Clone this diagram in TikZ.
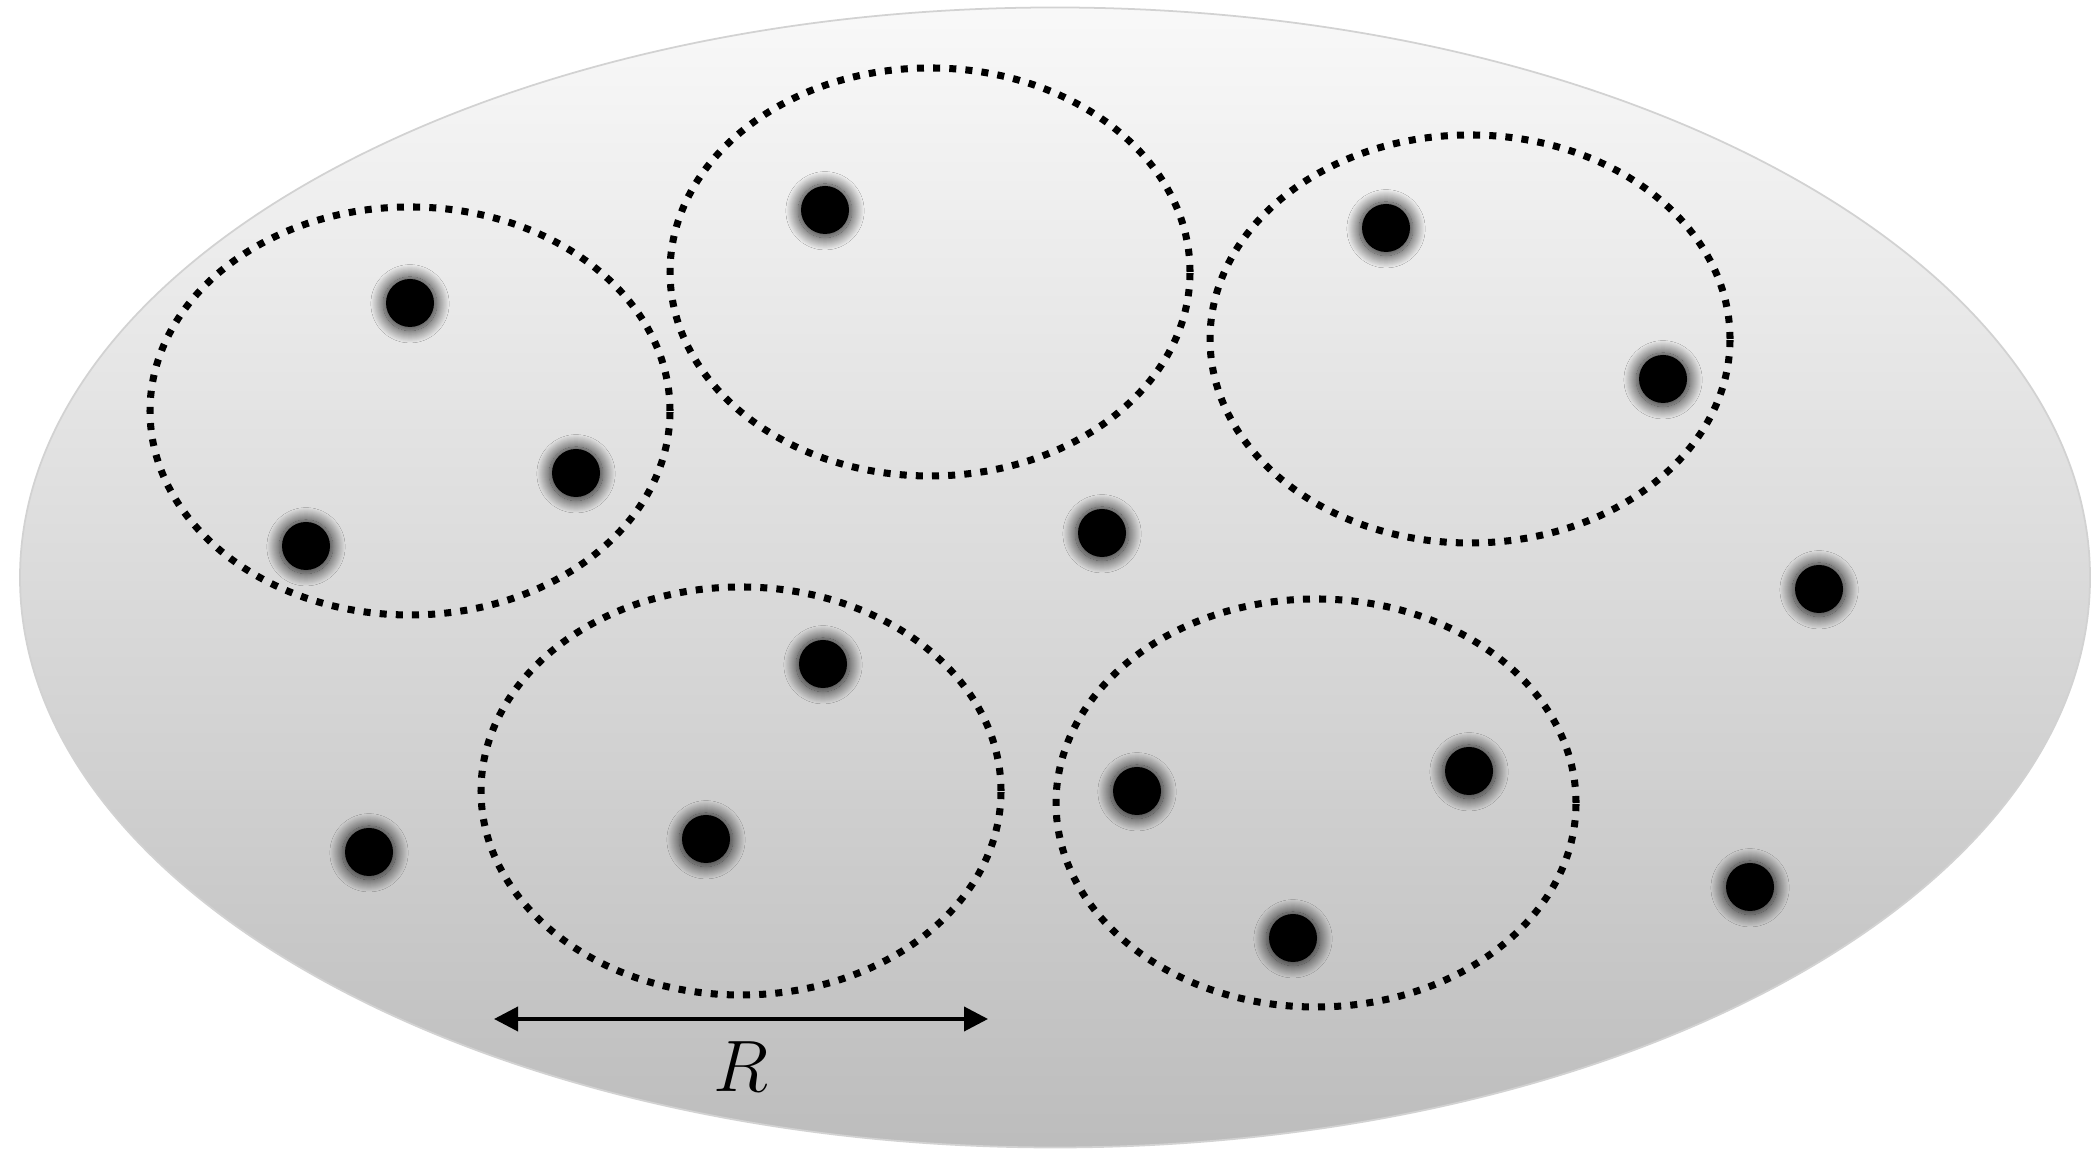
\documentclass[tikz,border=0pt]{standalone}
\usepackage{tikz}
\usetikzlibrary{positioning,arrows.meta,shapes.geometric,shadows.blur}

\begin{document}
\begin{tikzpicture}[
    pt/.style={circle, fill=black, inner sep=0pt, minimum size=0.48cm,
      blur shadow={shadow xshift=0pt, shadow yshift=-0.2pt, shadow blur radius=0.11cm,
        shadow opacity=85, shadow scale=1.12, shadow blur steps=25}},
    region/.style={ellipse, draw=black, line width=2pt, dash pattern=on 2pt off 2.6pt,
      inner sep=0pt, minimum width=5.2cm, minimum height=4.08cm},
    span/.style={{Triangle[length=0.24cm,width=0.24cm]}-{Triangle[length=0.24cm,width=0.24cm]}, line width=1.1pt}]
  \useasboundingbox (0,0) rectangle (20.94,11.53);
  % shaded domain
  \shade[top color=gray!5, bottom color=gray!52, draw=gray!35, line width=0.5pt]
    (10.55,5.755) ellipse [x radius=10.35cm, y radius=5.70cm];
  % regions of size R
  \foreach \n/\x/\y in {c1/4.10/7.42, c2/9.30/8.81, c3/14.70/8.14, c4/7.41/3.62, c5/13.16/3.50}
    \node[region] (\n) at (\x,\y) {};
  % points
  \foreach \x/\y [count=\i] in {4.10/8.50, 5.76/6.80, 3.06/6.07, 8.25/9.43, 13.86/9.25,
      16.63/7.74, 11.02/6.20, 18.19/5.64, 8.23/4.89, 7.06/3.14, 3.69/3.01,
      11.37/3.62, 14.69/3.82, 12.93/2.15, 17.50/2.66}
    \node[pt] (p\i) at (\x,\y) {};
  % scale bar
  \coordinate (rl) at (4.94,1.34);
  \coordinate (rr) at (9.88,1.34);
  \draw[span] (rl) -- (rr);
  \node[font=\fontsize{21}{25}\selectfont] (rlab) at (7.41,0.86) {$R$};
\end{tikzpicture}
\end{document}
